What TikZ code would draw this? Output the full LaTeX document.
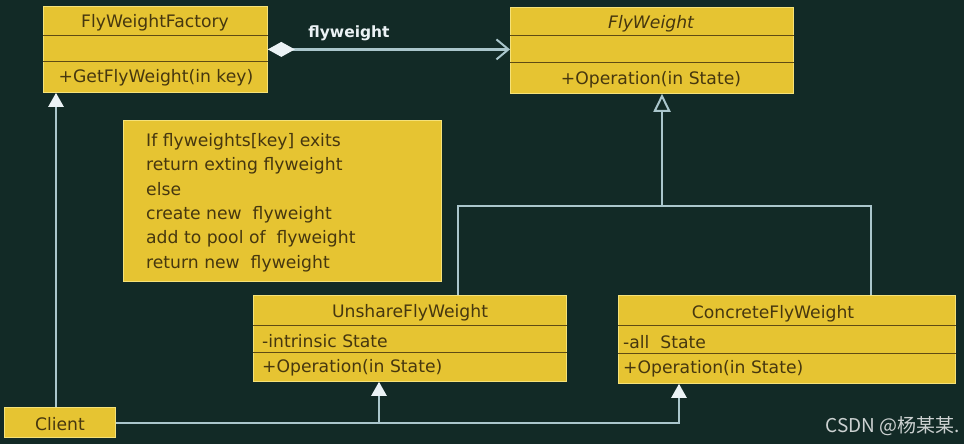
\documentclass[tikz,border=0pt]{standalone}
\usepackage{fontspec}
\setmainfont{DejaVu Sans}
\newfontfamily\cjkfont{Noto Sans CJK SC}
\usetikzlibrary{arrows.meta}
\definecolor{bgcol}{RGB}{18,42,38}
\definecolor{boxfill}{RGB}{230,196,50}
\definecolor{boxedge}{RGB}{245,225,120}
\definecolor{divcol}{RGB}{95,75,20}
\definecolor{txtcol}{RGB}{70,55,15}
\definecolor{linecol}{RGB}{170,198,204}
\definecolor{tipcol}{RGB}{235,242,245}
\definecolor{markcol}{RGB}{205,210,210}
\tikzset{
  umlbox/.style={draw=boxedge, line width=0.8pt, fill=boxfill, anchor=north west, inner sep=0pt},
  divline/.style={draw=divcol, line width=1pt},
  txt/.style={text=txtcol, font=\fontsize{17.2}{20}\selectfont, inner sep=0pt},
  conn/.style={draw=linecol, line width=2.4pt},
  genopen/.style={-{Triangle[open, length=18pt, width=17pt, line width=2pt, fill=bgcol]}},
  navtip/.style={-{Triangle[length=14pt, width=15pt, fill=tipcol, color=tipcol]}},
}
\begin{document}
\begin{tikzpicture}[x=1pt, y=-1pt]
\fill[bgcol] (0,0) rectangle (964,444);
\useasboundingbox (0,0) rectangle (964,444);

% FlyWeightFactory
\node[umlbox, minimum width=224pt, minimum height=86pt] (factory) at (43,6) {};
\draw[divline] ([yshift=-30pt]factory.north west) -- ([yshift=-30pt]factory.north east);
\draw[divline] ([yshift=-56pt]factory.north west) -- ([yshift=-56pt]factory.north east);
\node[txt] (factoryname) at (155,23) {FlyWeightFactory};
\node[txt] (factoryop) at (156,78) {+GetFlyWeight(in key)};

% FlyWeight
\node[umlbox, minimum width=283pt, minimum height=86pt] (fw) at (510,7) {};
\draw[divline] ([yshift=-29pt]fw.north west) -- ([yshift=-29pt]fw.north east);
\draw[divline] ([yshift=-56pt]fw.north west) -- ([yshift=-56pt]fw.north east);
\node[txt, font=\fontsize{17.2}{20}\selectfont\itshape] (fwname) at (651,24) {FlyWeight};
\node[txt] (fwop) at (651,80) {+Operation(in State)};

% Note
\node[umlbox, minimum width=318pt, minimum height=161pt] (note) at (123,120) {};
\node[txt, anchor=north west, align=left, font=\fontsize{17.2}{24.4}\selectfont] (notetext) at (146,133)
  {If flyweights[key] exits\\return exting flyweight\\else\\create new\ \ flyweight\\add to pool of\ \ flyweight\\return new\ \ flyweight};

% UnshareFlyWeight
\node[umlbox, minimum width=313pt, minimum height=86pt] (unshare) at (253,295) {};
\draw[divline] ([yshift=-30pt]unshare.north west) -- ([yshift=-30pt]unshare.north east);
\draw[divline] ([yshift=-57pt]unshare.north west) -- ([yshift=-57pt]unshare.north east);
\node[txt] (unsharename) at (410,313) {UnshareFlyWeight};
\node[txt, anchor=west] (unshareattr) at (262,341) {-intrinsic State};
\node[txt, anchor=west] (unshareop) at (262,368) {+Operation(in State)};

% ConcreteFlyWeight
\node[umlbox, minimum width=337pt, minimum height=88pt] (concrete) at (618,295) {};
\draw[divline] ([yshift=-30pt]concrete.north west) -- ([yshift=-30pt]concrete.north east);
\draw[divline] ([yshift=-58pt]concrete.north west) -- ([yshift=-58pt]concrete.north east);
\node[txt] (concretename) at (773,314) {ConcreteFlyWeight};
\node[txt, anchor=west] (concreteattr) at (623,342) {-all\ \ State};
\node[txt, anchor=west] (concreteop) at (623,369) {+Operation(in State)};

% Client
\node[umlbox, minimum width=111pt, minimum height=30pt] (client) at (4,407) {};
\node[txt] (clientname) at (60,424) {Client};

% aggregation
\draw[conn, {Diamond[length=27pt, width=15pt, fill=tipcol, color=tipcol]}-{Straight Barb[length=12pt, width=20pt, line width=2pt]}]
  (factory.east) -- (factory.east -| fw.west);
\node[font=\bfseries\fontsize{15.5}{18}\selectfont, text=tipcol, inner sep=0pt] (agglabel) at (349,33) {flyweight};

% generalization
\coordinate (jL) at (458,206);
\coordinate (jM) at (662,206);
\coordinate (jR) at (871,206);
\draw[conn] (jL |- unshare.north) -- (jL) -- (jR) -- (jR |- concrete.north);
\draw[conn, genopen] (jM) -- (jM |- fw.south);

% client associations
\coordinate (cF) at (56,0);
\coordinate (cU) at (379,423);
\coordinate (cC) at (679,423);
\draw[conn, navtip] (cF |- client.north) -- (cF |- factory.south);
\draw[conn, navtip] (client.east |- cC) -- (cC) -- (cC |- concrete.south);
\draw[conn, navtip] (cU) -- (cU |- unshare.south);

% watermark
\node[anchor=east, text=markcol, font=\cjkfont\fontsize{19}{22}\selectfont, inner sep=0pt] (mark) at (960,426) {CSDN @杨某某.};
\end{tikzpicture}
\end{document}
